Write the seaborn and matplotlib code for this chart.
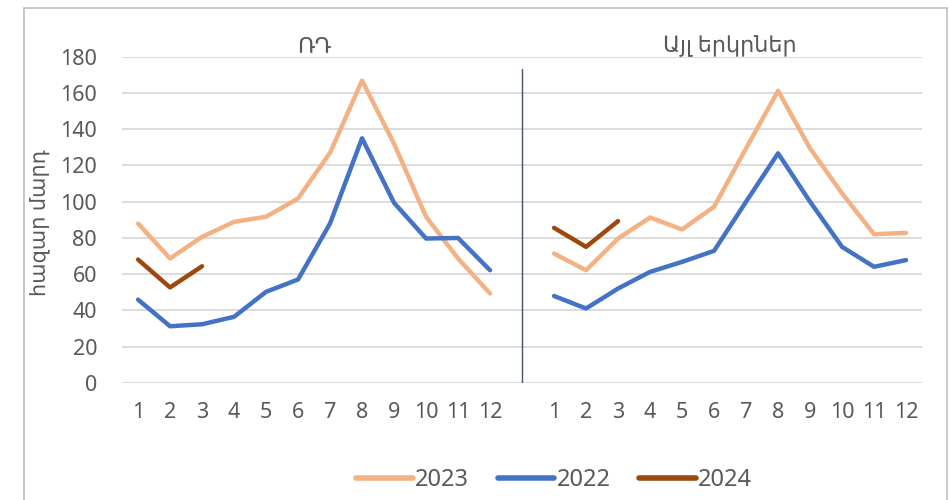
import pandas as pd
import seaborn as sns
import matplotlib.pyplot as plt
from matplotlib.patches import Rectangle

months = list(range(1, 13))
panels = ["ՌԴ", "Այլ երկրներ"]
years = ["2023", "2022", "2024"]
colors = {"2023": "#F4B183", "2022": "#4472C4", "2024": "#9E480E"}

# thousand people, by month
ru_2023 = [88, 68.7, 80.6, 88.9, 91.7, 101.8, 127, 166.8, 132, 91.7, 68.7, 49.4]
ru_2022 = [46, 31.3, 32.4, 36.5, 50.3, 57.1, 88, 135, 99.4, 79.7, 80, 62.2]
ru_2024 = [68.1, 52.7, 64.4]
other_2023 = [71.4, 62.2, 79.7, 91.3, 84.7, 97.2, 129.4, 161.2, 129.4, 104.6, 82.1, 82.8]
other_2022 = [48, 41.1, 52.1, 61.3, 66.8, 72.9, 100, 126.7, 100, 75.1, 64.1, 67.8]
other_2024 = [85.6, 75.1, 89.3]

series = {
    (0, "2023"): ru_2023, (0, "2022"): ru_2022, (0, "2024"): ru_2024,
    (1, "2023"): other_2023, (1, "2022"): other_2022, (1, "2024"): other_2024,
}
rows = []
for (p, yr), vals in series.items():
    for i, v in enumerate(vals):
        rows.append({"panel": p, "pos": p * 13 + i, "year": yr, "value": v})
df = pd.DataFrame(rows)

sns.set_style("white")
plt.rcParams["font.family"] = ["Noto Sans", "DejaVu Sans"]
txt = "#595959"

fig = plt.figure(figsize=(9.49, 5), dpi=100)
ax = fig.add_axes([0.1286, 0.234, 0.843, 0.6526])

for p in range(2):
    sns.lineplot(data=df[df.panel == p], x="pos", y="value", hue="year",
                 hue_order=years, palette=colors, linewidth=3.2,
                 solid_capstyle="round", ax=ax, legend=(p == 0))

ax.set_ylim(0, 180)
ax.set_xlim(-0.5, 24.5)
ax.set_yticks(range(0, 181, 20))
ax.yaxis.grid(True, color="#D9D9D9", linewidth=1.3)
ax.set_axisbelow(True)
ax.set_xticks([i for i in range(12)] + [13 + i for i in range(12)])
ax.set_xticklabels([str(m) for m in months] * 2)
ax.tick_params(axis="both", length=0, labelsize=15.5, colors=txt)
ax.tick_params(axis="x", pad=14)
ax.tick_params(axis="y", pad=18)
for s in ax.spines.values():
    s.set_visible(False)
ax.set_xlabel("")
ax.set_ylabel("հազար մարդ", fontsize=15, color=txt)
ax.yaxis.set_label_coords(-0.09, 0.49)

ax.plot([12, 12], [0, 173], color="#44546A", linewidth=1)
ax.text(5.5, 180, panels[0], ha="center", va="bottom", fontsize=16, color=txt)
ax.text(18.5, 180, panels[1], ha="center", va="bottom", fontsize=16, color=txt)

leg = ax.legend(loc="lower center", bbox_to_anchor=(0.54, -0.40), ncol=3,
                frameon=False, fontsize=17, handlelength=2.4, handletextpad=0.1,
                columnspacing=1.2, title=None)
for t in leg.get_texts():
    t.set_color(txt)
for h in leg.get_lines():
    h.set_linewidth(4)

fig.patches.append(Rectangle((24 / 949, -0.1), 923 / 949, 1.1 - 8 / 500,
                             transform=fig.transFigure, fill=False,
                             edgecolor="#BFBFBF", linewidth=1.2))

fig.savefig("out.png", dpi=100)
